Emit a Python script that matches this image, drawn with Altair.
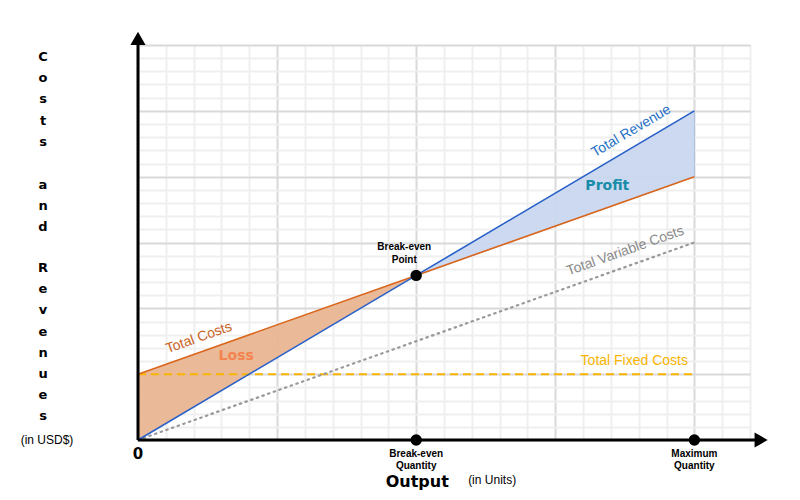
import altair as alt
import pandas as pd

# ---- data ----
output_units = [0, 10, 20]            # 0, break-even quantity, maximum quantity
total_revenue = [0, 12.5, 25]
total_costs = [5, 12.5, 20]
variable_costs = [0, 7.5, 15]
fixed_costs = [5, 5, 5]
breakeven_x = [10]
breakeven_y = [12.5]
axis_marks_x = [10, 20]
axis_marks_y = [0, 0]

df = pd.DataFrame({
    "x": output_units,
    "tr": total_revenue,
    "tc": total_costs,
    "tvc": variable_costs,
    "tfc": fixed_costs,
})

FONT = "Liberation Sans"
BOLDFONT = "DejaVu Sans"
xs = alt.Scale(domain=[0, 22], nice=False, zero=False)
ys = alt.Scale(domain=[0, 30], nice=False, zero=False)

grid_color = {"condition": {"test": "datum.value % 5 === 0", "value": "#d9d9d9"}, "value": "#efefef"}
grid_x = alt.Axis(values=list(range(0, 23)), tickCount=200, labels=False, ticks=False, domain=False,
                  title=None, gridColor=grid_color, gridWidth=2)
grid_y = alt.Axis(values=list(range(0, 31)), tickCount=200, labels=False, ticks=False, domain=False,
                  title=None, gridColor=grid_color, gridWidth=2)

base = alt.Chart(df)

grid = base.mark_point(opacity=0).encode(
    x=alt.X("x:Q", scale=xs, axis=grid_x),
    y=alt.Y("tr:Q", scale=ys, axis=grid_y),
)

loss = base.transform_filter("datum.x <= 10").mark_area(color="#e9b591", opacity=0.95).encode(
    x=alt.X("x:Q", scale=xs), y=alt.Y("tr:Q", scale=ys), y2="tc:Q")
profit = base.transform_filter("datum.x >= 10").mark_area(
    color="#cad8f0", opacity=0.95, stroke="#a9bfe3", strokeWidth=1).encode(
    x=alt.X("x:Q", scale=xs), y=alt.Y("tc:Q", scale=ys), y2="tr:Q")

tfc_line = base.mark_line(color="#f7b500", strokeWidth=2, strokeDash=[8, 5]).encode(
    x=alt.X("x:Q", scale=xs), y=alt.Y("tfc:Q", scale=ys))
tvc_line = base.mark_line(color="#999999", strokeWidth=2.2, strokeDash=[1.5, 4.5], strokeCap="round").encode(
    x=alt.X("x:Q", scale=xs), y=alt.Y("tvc:Q", scale=ys))
tc_line = base.mark_line(color="#d9661c", strokeWidth=1.6).encode(
    x=alt.X("x:Q", scale=xs), y=alt.Y("tc:Q", scale=ys))
tr_line = base.mark_line(color="#2a62c9", strokeWidth=1.6).encode(
    x=alt.X("x:Q", scale=xs), y=alt.Y("tr:Q", scale=ys))

# axes with arrows
axes_df = pd.DataFrame({"x0": [0, 0], "y0": [0, 0], "x1": [22.2, 0], "y1": [0, 30.3]})
axis_lines = alt.Chart(axes_df).mark_rule(color="black", strokeWidth=3).encode(
    x=alt.X("x0:Q", scale=xs), y=alt.Y("y0:Q", scale=ys), x2="x1:Q", y2="y1:Q")
arrow_up = alt.Chart(pd.DataFrame({"x": [0], "y": [30.5]})).mark_point(
    shape="triangle-up", filled=True, color="black", size=230, opacity=1).encode(
    x=alt.X("x:Q", scale=xs), y=alt.Y("y:Q", scale=ys))
arrow_right = alt.Chart(pd.DataFrame({"x": [22.4], "y": [0]})).mark_point(
    shape="triangle-right", filled=True, color="black", size=230, opacity=1).encode(
    x=alt.X("x:Q", scale=xs), y=alt.Y("y:Q", scale=ys))

dots = alt.Chart(pd.DataFrame({"x": breakeven_x + axis_marks_x, "y": breakeven_y + axis_marks_y})).mark_circle(
    color="black", size=130, opacity=1).encode(
    x=alt.X("x:Q", scale=xs), y=alt.Y("y:Q", scale=ys))


def label(text, x, y, color="black", size=14, angle=0, weight="normal", align="center",
          line_height=None, font=FONT):
    kw = dict(color=color, fontSize=size, font=font, fontWeight=weight, align=align,
              baseline="middle", angle=angle, lineBreak="\n")
    if line_height:
        kw["lineHeight"] = line_height
    return alt.Chart(pd.DataFrame({"x": [x], "y": [y], "t": [text]})).mark_text(**kw).encode(
        x=alt.X("x:Q", scale=xs), y=alt.Y("y:Q", scale=ys), text="t:N")


labels = [
    label("Total Revenue", 17.73, 23.46, color="#1f6fc6", size=14, angle=329.4),
    label("Profit", 16.87, 19.29, color="#178ca8", size=14, weight="bold", font=BOLDFONT),
    label("Total Costs", 2.19, 7.75, color="#c8621c", size=14, angle=340.4),
    label("Loss", 3.53, 6.38, color="#f4844f", size=14, weight="bold", font=BOLDFONT),
    label("Total Variable Costs", 17.52, 14.35, color="#8a8a8a", size=14, angle=340.4),
    label("Total Fixed Costs", 17.84, 6.0, color="#f7b500", size=14),
    label("Break-even\nPoint", 9.57, 14.65, size=10, weight="bold", line_height=13),
    label("Break-even\nQuantity", 10, -1.1, size=10, weight="bold", line_height=11.5),
    label("Maximum\nQuantity", 20, -1.1, size=10, weight="bold", line_height=11.5),
    label("0", 0, -1.06, size=15, weight="bold", font=BOLDFONT),
    label("Output", 10.04, -3.22, size=16, weight="bold", font=BOLDFONT),
    label("(in Units)", 12.73, -3.04, size=12),
]

# vertical, letter-by-letter y title, one text block per word
title_words = ["Costs", "and", "Revenues"]
title_word_top = [12, 140, 223]   # pixel offsets of each word's first letter from the plot top
ytitle = [
    alt.Chart(pd.DataFrame({"t": ["\n".join(list(w))]})).mark_text(
        font=BOLDFONT, fontSize=13, fontWeight="bold", color="black", align="center", baseline="middle",
        lineBreak="\n", lineHeight=21.2).encode(
        x=alt.value(-95), y=alt.value(top), text="t:N")
    for w, top in zip(title_words, title_word_top)
]
yunit = alt.Chart(pd.DataFrame({"t": ["(in USD$)"]})).mark_text(
    font=FONT, fontSize=12, color="black", align="center", baseline="middle").encode(
    x=alt.value(-91), y=alt.value(395), text="t:N")

chart = alt.layer(
    grid, loss, profit, tfc_line, tvc_line, tc_line, tr_line,
    axis_lines, arrow_up, arrow_right, dots, *labels, *ytitle, yunit
).properties(
    width=612, height=395,
    autosize=alt.AutoSizeParams(type="none"),
    padding={"left": 130, "top": 37, "right": 40, "bottom": 55},
).configure_view(strokeWidth=0).configure(background="white")

chart.save("out.html", embed_options={"renderer": "svg", "actions": False})
